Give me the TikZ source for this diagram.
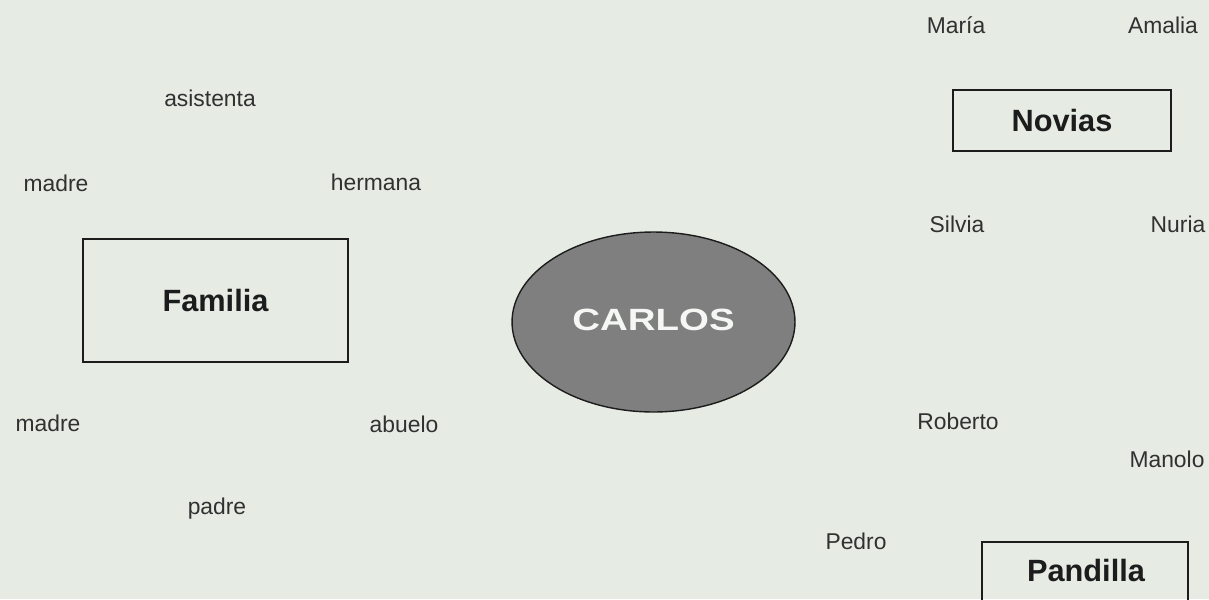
\documentclass[tikz,border=0pt]{standalone}
\usepackage{fontspec}
\setmainfont{Liberation Sans}
\usetikzlibrary{shapes.geometric}
\definecolor{papel}{HTML}{E6EBE4}
\definecolor{tinta}{HTML}{1C1C1C}
\definecolor{gris}{HTML}{7F7F7F}
\tikzset{
	nombre/.style={text=tinta!90!papel, font=\fontsize{13}{15}\selectfont, inner sep=0pt, text height=9.3pt, text depth=0pt},
	grupo/.style={draw=tinta, line width=1.1pt, text=tinta, font=\fontsize{17.5}{20}\selectfont\bfseries, inner sep=0pt},
	marco/.style={draw=tinta, line width=1.1pt},
}

\begin{document}
\begin{tikzpicture}[x=0.02cm, y=-0.02cm]
			%%%%% START %%%%%
			
			\clip (0, 0) rectangle (1209, 599);
			\fill[papel] (0, 0) rectangle (1209, 599);
			
			\node[ellipse, draw=tinta, line width=0.8pt, fill=gris, minimum width=5.66cm, minimum height=3.6cm, inner sep=0pt] (carlos) at (653.5, 322) {};
			\node[text=papel!40!white, font=\fontsize{17.5}{20}\selectfont\bfseries] (carlosname) at (653.5, 320) {\scalebox{1.25}[1]{CARLOS}};
			
			\node[grupo, minimum width=5.3cm, minimum height=2.46cm] (familia) at (215.5, 300.5) {Familia};
			\node[grupo, minimum width=4.36cm, minimum height=1.22cm] (novias) at (1062, 120.5) {Novias};
			\node[grupo, draw=none] (pandilla) at (1086, 570) {Pandilla};
			\draw[marco] (982, 542) rectangle (1188, 660);
			
			\node[nombre] (asistenta) at (210, 98) {asistenta};
			\node[nombre] (madrea) at (56, 183) {madre};
			\node[nombre] (hermana) at (376, 182) {hermana};
			\node[nombre] (madreb) at (48, 423) {madre};
			\node[nombre] (abuelo) at (404, 424) {abuelo};
			\node[nombre] (padre) at (217, 506) {padre};
			
			\node[nombre] (maria) at (956, 25) {María};
			\node[nombre] (amalia) at (1163, 25) {Amalia};
			\node[nombre] (silvia) at (957, 224) {Silvia};
			\node[nombre] (nuria) at (1178, 224) {Nuria};
			
			\node[nombre] (roberto) at (958, 421) {Roberto};
			\node[nombre] (manolo) at (1167, 459) {Manolo};
			\node[nombre] (pedro) at (856, 541) {Pedro};
			
			%%%%% END %%%%%
		\end{tikzpicture}
\end{document}
